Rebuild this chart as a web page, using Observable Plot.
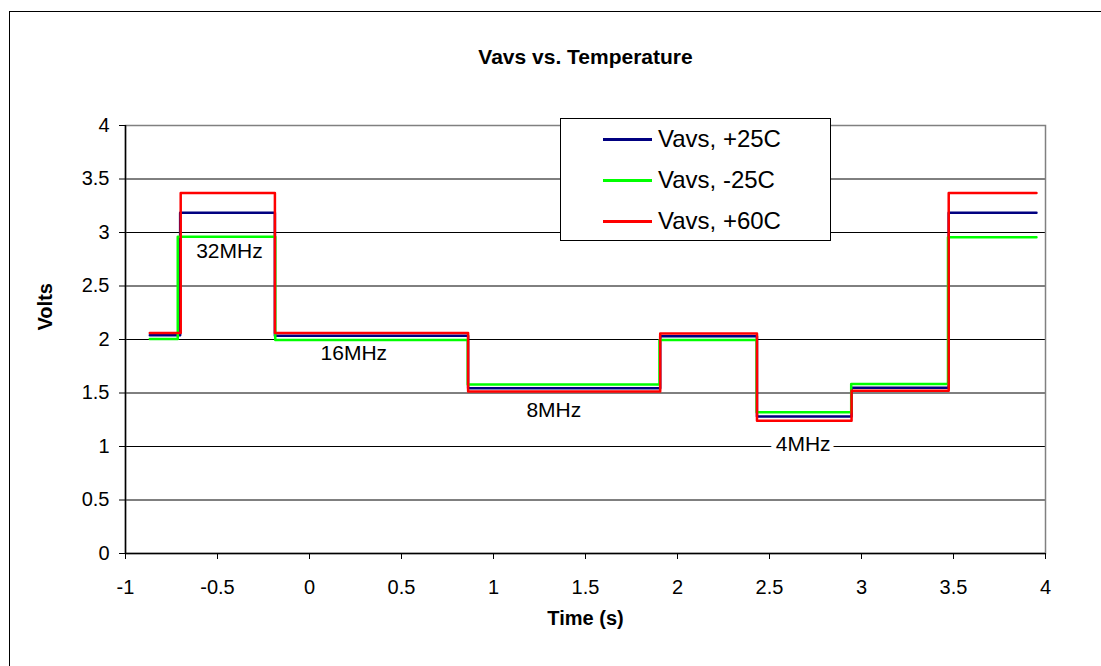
<!DOCTYPE html>
<html><head><meta charset="utf-8">
<script src="https://cdn.jsdelivr.net/npm/d3@7"></script>
<script src="https://cdn.jsdelivr.net/npm/@observablehq/plot@0.6"></script>
<style>
body{margin:0;background:#fff;font-family:"Liberation Sans",Arial,sans-serif;}
#wrap{position:relative;width:1101px;height:666px;overflow:hidden;}
#border{position:absolute;left:9px;top:11px;width:1100px;height:660px;border:1px solid #000;box-sizing:border-box;}
#chart{position:absolute;left:0;top:0;}
#legend{position:absolute;left:560px;top:118px;width:271px;height:123px;border:1px solid #000;background:#fff;box-sizing:border-box;}
.row{position:absolute;left:42px;height:28px;display:flex;align-items:center;font-size:24px;line-height:28px;}
.sw{width:49px;height:3px;margin-right:6px;}
</style></head><body><div id="wrap"><div id="border"></div><div id="chart"></div><div id="legend"></div></div>
<script>
const series = ["Vavs, +25C", "Vavs, -25C", "Vavs, +60C"];
const colors = ["#000080", "#00ff00", "#ff0000"];
// step boundaries in seconds (one list per series)
const edgesP25 = [-0.868, -0.703, -0.188, 0.862, 1.906, 2.432, 2.946, 3.474, 3.951];
const edgesM25 = [-0.868, -0.716, -0.186, 0.860, 1.902, 2.430, 2.944, 3.470, 3.951];
const edgesP60 = [-0.868, -0.700, -0.188, 0.862, 1.906, 2.432, 2.946, 3.474, 3.951];
const levelP25 = [2.04, 3.185, 2.035, 1.545, 2.03, 1.28, 1.55, 3.185];
const levelM25 = [2.005, 2.96, 1.995, 1.58, 1.995, 1.32, 1.585, 2.955];
const levelP60 = [2.06, 3.37, 2.06, 1.515, 2.055, 1.24, 1.52, 3.37];
const xTicks = [-1, -0.5, 0, 0.5, 1, 1.5, 2, 2.5, 3, 3.5, 4];
const yTicks = [0, 0.5, 1, 1.5, 2, 2.5, 3, 3.5, 4];
const labelText = ["32MHz", "16MHz", "8MHz", "4MHz"];
const labelT = [-0.435, 0.241, 1.328, 2.683];
const labelV = [2.82, 1.87, 1.343, 1.025];

const edges = [edgesP25, edgesM25, edgesP60];
const levels = [levelP25, levelM25, levelP60];
const data = [];
levels.forEach((lv, s) => {
  lv.forEach((v, i) => {
    data.push({series: series[s], t: edges[s][i], v});
    data.push({series: series[s], t: edges[s][i + 1], v});
  });
});
const labels = labelText.map((text, i) => ({text, t: labelT[i], v: labelV[i]}));

const plot = Plot.plot({
  width: 1101, height: 666,
  marginLeft: 125, marginRight: 56, marginTop: 125, marginBottom: 113,
  style: {fontFamily: "Liberation Sans, Arial, sans-serif", fontSize: "20px", background: "transparent", color: "#000", overflow: "visible"},
  x: {domain: [-1, 4]},
  y: {domain: [0, 4]},
  color: {domain: series, range: colors},
  marks: [
    Plot.gridY(yTicks, {stroke: "#000", strokeOpacity: 1, strokeWidth: 1}),
    Plot.frame({stroke: "#808080", strokeWidth: 1.5}),
    Plot.text(labels, {x: "t", y: "v", text: "text", fill: "#000", stroke: "white", strokeWidth: 10, fontSize: 21}),
    Plot.line(data, {x: "t", y: "v", z: "series", stroke: "series", strokeWidth: 2.5}),
    Plot.axisX({ticks: xTicks, tickSize: 6, tickPadding: 20, tickFormat: d => String(d), label: null, fontSize: 20, stroke: "#000"}),
    Plot.axisY({ticks: yTicks, tickSize: 6, tickPadding: 10, tickFormat: d => String(d), label: null, fontSize: 20, stroke: "#000"}),
    Plot.ruleY([0], {stroke: "#000", strokeWidth: 1.5}),
    Plot.ruleX([-1], {stroke: "#000", strokeWidth: 1.5}),
    Plot.text(["Vavs vs. Temperature"], {frameAnchor: "top", dy: -76, fontWeight: "bold", fontSize: 21}),
    Plot.text(["Time (s)"], {frameAnchor: "bottom", dy: 71, fontWeight: "bold", fontSize: 20}),
    Plot.text(["Volts"], {frameAnchor: "left", dx: -80, dy: -9, rotate: -90, fontWeight: "bold", fontSize: 20})
  ]
});
document.getElementById("chart").appendChild(plot);

const legend = document.getElementById("legend");
series.forEach((s, i) => {
  const row = document.createElement("div");
  row.className = "row";
  row.style.top = (6 + i * 41) + "px";
  row.innerHTML = `<div class="sw" style="background:${colors[i]}"></div><span>${s}</span>`;
  legend.appendChild(row);
});
</script>
</body></html>
